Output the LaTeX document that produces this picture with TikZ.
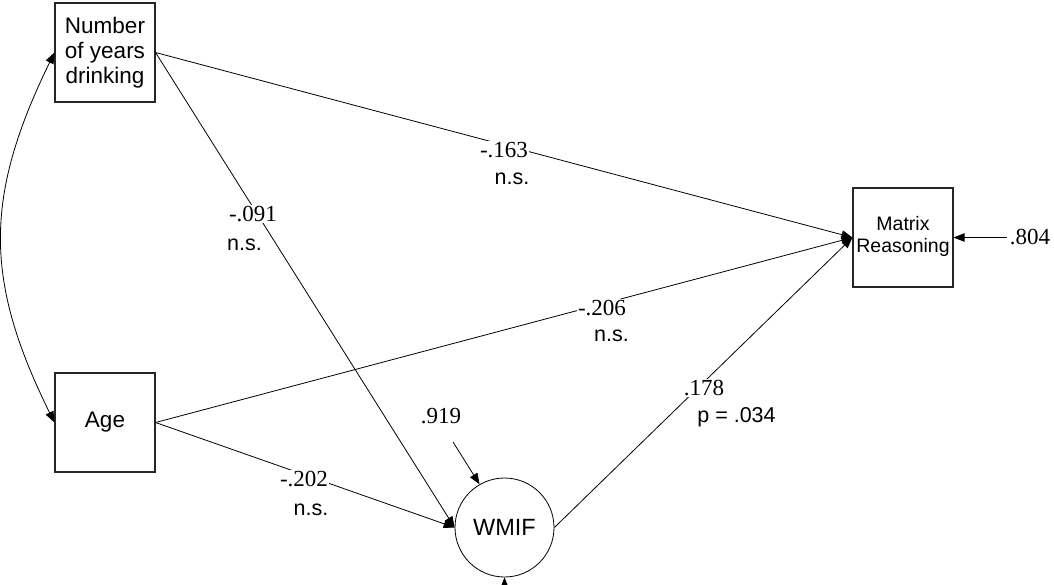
\documentclass[tikz,border=0pt]{standalone}
\usepackage{fontspec}
\setmainfont{Liberation Serif}
\newfontfamily\sansf{Liberation Sans}
\usetikzlibrary{arrows.meta}
\tikzset{
  box/.style={draw, line width=1.1pt, draw=black!85, minimum width=100pt, minimum height=99pt, align=center, inner sep=0pt},
  boxbig/.style={box, font=\sansf\fontsize{22.5}{25}\selectfont},
  boxsmall/.style={box, font=\sansf\fontsize{19.5}{22}\selectfont},
  latent/.style={draw, circle, line width=0.8pt, minimum size=99pt, inner sep=0pt, font=\sansf\fontsize{23.5}{26}\selectfont},
  conn/.style={line width=0.8pt, -{Triangle[length=11pt,width=8.5pt]}},
  biconn/.style={line width=0.8pt, {Triangle[length=11pt,width=8.5pt]}-{Triangle[length=11pt,width=8.5pt]}},
  coef/.style={fill=white, inner sep=1.5pt, font=\fontsize{23}{26}\selectfont},
  sig/.style={inner sep=0pt, font=\sansf\fontsize{21.5}{24}\selectfont},
  errlbl/.style={inner sep=3pt, font=\fontsize{23}{26}\selectfont}
}
\begin{document}
\begin{tikzpicture}[x=1pt, y=-1pt]
\useasboundingbox (0,0) rectangle (1054,584);
% observed and latent variables
\node[boxbig] (num) at (105,52.5) {Number\\of years\\drinking};
\node[boxbig] (age) at (105,422.5) {Age};
\node[boxsmall] (mr) at (903,237.5) {\raisebox{-3pt}{\begin{tabular}{@{}c@{}}Matrix\\Reasoning\end{tabular}}};
\node[latent] (wmif) at (504.5,527.5) {WMIF};
% paths
\draw[conn] (num.east) -- (mr.west);
\draw[conn] (num.east) -- (wmif.west);
\draw[conn] (age.east) -- (mr.west);
\draw[conn] (age.east) -- (wmif.west);
\draw[conn] (wmif.east) -- (mr.west);
\draw[biconn] (num.west) .. controls (-16,197) and (-16,280) .. (age.west);
% error terms
\node[errlbl] (e1) at (441,416) {.919};
\coordinate (e1s) at (453,442);
\draw[conn] (e1s) -- (wmif.120);
\node[errlbl] (e2) at (1030,237.5) {.804};
\draw[conn] (e2.west) -- (mr.east);
\coordinate (e3s) at (504.5,640);
\draw[conn] (e3s) -- (wmif.south);
% coefficient labels
\node[coef] (l1) at (504,150) {-.163};
\node[sig] (s1) at (512,178.5) {n.s.};
\node[coef] (l2) at (253,214) {-.091};
\node[sig] (s2) at (244.5,244.5) {n.s.};
\node[coef] (l3) at (602,308) {-.206};
\node[sig] (s3) at (611.5,335.5) {n.s.};
\node[coef] (l4) at (304,479) {-.202};
\node[sig] (s4) at (311,510) {n.s.};
\node[coef] (l5) at (704,388) {.178};
\node[sig] (s5) at (736.5,417) {p = .034};
\end{tikzpicture}
\end{document}
